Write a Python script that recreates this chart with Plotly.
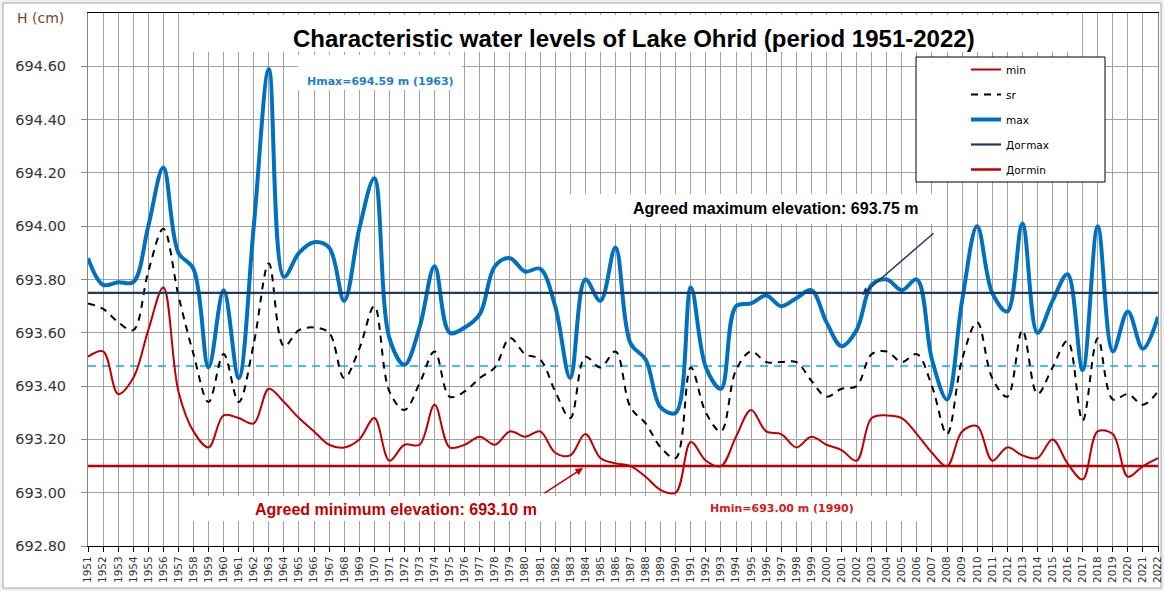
import plotly.graph_objects as go

years = list(range(1951, 2023))

max_vals = [693.88, 693.78, 693.79, 693.79, 694.00, 694.22, 693.90, 693.84, 693.47, 693.76,
            693.43, 694.00, 694.59, 693.81, 693.90, 693.94, 693.92, 693.72, 693.99, 694.18,
            693.58, 693.48, 693.62, 693.85, 693.60, 693.62, 693.67, 693.85, 693.88, 693.83,
            693.84, 693.70, 693.43, 693.80, 693.72, 693.92, 693.56, 693.50, 693.32, 693.30,
            693.77, 693.47, 693.39, 693.70, 693.71, 693.74, 693.70, 693.73, 693.76, 693.64,
            693.55, 693.61, 693.78, 693.80, 693.76, 693.80, 693.50, 693.35, 693.72, 694.00,
            693.75, 693.68, 694.01, 693.60, 693.72, 693.82, 693.46, 694.00, 693.53, 693.68,
            693.54, 693.66]

sr_vals = [693.71, 693.69, 693.64, 693.61, 693.83, 693.99, 693.74, 693.52, 693.34, 693.52,
           693.34, 693.56, 693.86, 693.55, 693.61, 693.62, 693.60, 693.43, 693.54, 693.70,
           693.38, 693.31, 693.41, 693.53, 693.36, 693.38, 693.43, 693.47, 693.58, 693.52,
           693.50, 693.38, 693.28, 693.51, 693.47, 693.53, 693.32, 693.26, 693.17, 693.13,
           693.47, 693.30, 693.23, 693.46, 693.53, 693.49, 693.49, 693.49, 693.42, 693.36,
           693.39, 693.40, 693.52, 693.53, 693.49, 693.52, 693.40, 693.22, 693.50, 693.64,
           693.43, 693.36, 693.61, 693.37, 693.47, 693.57, 693.27, 693.58, 693.35, 693.37,
           693.33, 693.38]

min_vals = [693.51, 693.53, 693.37, 693.43, 693.61, 693.77, 693.38, 693.23, 693.17, 693.29,
            693.28, 693.26, 693.39, 693.34, 693.28, 693.23, 693.18, 693.17, 693.20, 693.28,
            693.12, 693.18, 693.18, 693.33, 693.17, 693.18, 693.21, 693.18, 693.23, 693.21,
            693.23, 693.15, 693.14, 693.22, 693.13, 693.11, 693.10, 693.06, 693.01, 693.00,
            693.19, 693.12, 693.10, 693.21, 693.31, 693.23, 693.22, 693.17, 693.21, 693.18,
            693.16, 693.12, 693.28, 693.29, 693.28, 693.22, 693.15, 693.10, 693.23, 693.25,
            693.12, 693.17, 693.14, 693.13, 693.20, 693.11, 693.05, 693.23, 693.22, 693.06,
            693.10, 693.13]

dogmax_level = 693.75
dogmin_level = 693.10
mean_level = 693.475

y_ticks = [692.80, 693.00, 693.20, 693.40, 693.60, 693.80, 694.00, 694.20, 694.40, 694.60]

W, H = 1164, 591
L, R, T, B = 88, 1158, 13, 546


def px(xp):
    return (xp - L) / (R - L)


def py(yp):
    return (B - yp) / (B - T)


fig = go.Figure()

fig.add_trace(go.Scatter(x=years, y=[mean_level] * len(years), mode="lines",
                         line=dict(color="#00B0F0", width=1.5, dash="8px,6px"),
                         showlegend=False, hoverinfo="skip"))
fig.add_trace(go.Scatter(x=years, y=min_vals, name="min", mode="lines", legendgroup="a",
                         line=dict(color="#C00000", width=2, shape="spline", smoothing=1)))
fig.add_trace(go.Scatter(x=years, y=sr_vals, name="sr", mode="lines", legendgroup="b",
                         line=dict(color="#000000", width=2, dash="7px,6px", shape="spline", smoothing=1)))
fig.add_trace(go.Scatter(x=years, y=max_vals, name="max", mode="lines", legendgroup="c",
                         line=dict(color="#0070C0", width=4, shape="spline", smoothing=1)))
fig.add_trace(go.Scatter(x=years, y=[dogmax_level] * len(years), name="Догmax", mode="lines",
                         legendgroup="d", line=dict(color="#1F3864", width=2.2)))
fig.add_trace(go.Scatter(x=years, y=[dogmin_level] * len(years), name="Догmin", mode="lines",
                         legendgroup="e", line=dict(color="#C00000", width=2.5)))

shapes = [
    # outer frame
    dict(type="rect", xref="paper", yref="paper", x0=px(3), x1=px(1161), y0=py(588), y1=py(3),
         fillcolor="white", line=dict(color="#A6A6A6", width=1), layer="below"),
    # text backgrounds
    dict(type="rect", xref="paper", yref="paper", x0=px(193), x1=px(1082), y0=py(52), y1=py(15),
         fillcolor="white", line=dict(width=0), layer="above"),
    dict(type="rect", xref="paper", yref="paper", x0=px(298), x1=px(462), y0=py(90), y1=py(55),
         fillcolor="white", line=dict(width=0), layer="above"),
    dict(type="rect", xref="paper", yref="paper", x0=px(560), x1=px(940), y0=py(224), y1=py(194),
         fillcolor="white", line=dict(width=0), layer="above"),
    dict(type="rect", xref="paper", yref="paper", x0=px(193), x1=px(917), y0=py(521), y1=py(496),
         fillcolor="white", line=dict(width=0), layer="above"),
    # legend box
    dict(type="rect", xref="paper", yref="paper", x0=px(916), x1=px(1105), y0=py(182), y1=py(57),
         fillcolor="white", line=dict(color="#000000", width=1), layer="above"),
]

annotations = [
    dict(text="<b>Characteristic water levels of Lake Ohrid (period 1951-2022)</b>",
         xref="paper", yref="paper", x=px(634), y=py(38), xanchor="center", yanchor="middle",
         showarrow=False, font=dict(family="Liberation Sans, Arial", size=24, color="#000000")),
    dict(text="H (cm)", xref="paper", yref="paper", x=px(15), y=py(18), xanchor="left",
         yanchor="middle", showarrow=False,
         font=dict(family="DejaVu Sans", size=14, color="#6b4a2a")),
    dict(text="<b>Hmax=694.59 m (1963)</b>", xref="paper", yref="paper", x=px(380), y=py(81),
         xanchor="center", yanchor="middle", showarrow=False,
         font=dict(family="DejaVu Sans", size=11, color="#1B7FD1")),
    dict(text="<b>Hmin=693.00 m (1990)</b>", xref="paper", yref="paper", x=px(782), y=py(508),
         xanchor="center", yanchor="middle", showarrow=False,
         font=dict(family="DejaVu Sans", size=11, color="#D02020")),
    dict(text="<b>Agreed maximum elevation: 693.75 m</b>", xref="paper", yref="paper",
         x=px(775), y=py(208), xanchor="center", yanchor="middle", showarrow=False,
         font=dict(family="Liberation Sans, Arial", size=16, color="#000000")),
    dict(text="<b>Agreed minimum elevation: 693.10 m</b>", xref="paper", yref="paper",
         x=px(396), y=py(509), xanchor="center", yanchor="middle", showarrow=False,
         font=dict(family="Liberation Sans, Arial", size=16, color="#C00000")),
    dict(text="", xref="paper", yref="paper", x=px(862), y=py(295), ax=73, ay=-63,
         showarrow=True, arrowhead=2, arrowsize=1, arrowwidth=1.5, arrowcolor="#1F3864", standoff=0),
    dict(text="", xref="paper", yref="paper", x=px(583), y=py(468), ax=-40, ay=26,
         showarrow=True, arrowhead=2, arrowsize=1, arrowwidth=1.5, arrowcolor="#C00000", standoff=0),
]

fig.update_layout(
    width=W, height=H,
    margin=dict(l=L, r=W - R, t=T, b=H - B, pad=0, autoexpand=False),
    paper_bgcolor="#F0F0F0", plot_bgcolor="white",
    shapes=shapes, annotations=annotations,
    showlegend=True,
    legend=dict(x=px(966), y=py(55), xanchor="left", yanchor="top",
                bgcolor="rgba(0,0,0,0)", borderwidth=0, tracegroupgap=6,
                font=dict(family="DejaVu Sans", size=10.5, color="#000000"),
                traceorder="grouped"),
)

fig.update_xaxes(range=[1951, 2022], tickmode="array", tickvals=years,
                 ticktext=[str(y) for y in years], tickangle=-90, automargin=False,
                 tickfont=dict(family="DejaVu Sans", size=10.5, color="#333333"),
                 showgrid=True, gridcolor="#A0A0A0", gridwidth=1.2,
                 showline=True, linecolor="#000000", linewidth=1.2, mirror=True,
                 ticks="outside", ticklen=5, tickcolor="#000000", zeroline=False)
fig.update_yaxes(range=[692.8, 694.8], tickmode="array", tickvals=y_ticks,
                 ticktext=[f"{v:.2f}" for v in y_ticks], automargin=False,
                 tickfont=dict(family="DejaVu Sans", size=14.5, color="#333333"),
                 showgrid=True, gridcolor="#A0A0A0", gridwidth=1.2,
                 showline=True, linecolor="#888888", linewidth=1, mirror=True,
                 ticks="outside", ticklen=6, tickcolor="#888888", ticklabelstandoff=12,
                 zeroline=False)

fig.write_html("out.html", config={"displayModeBar": False},
               post_script="document.body.style.margin='0';document.body.style.overflow='hidden';")
